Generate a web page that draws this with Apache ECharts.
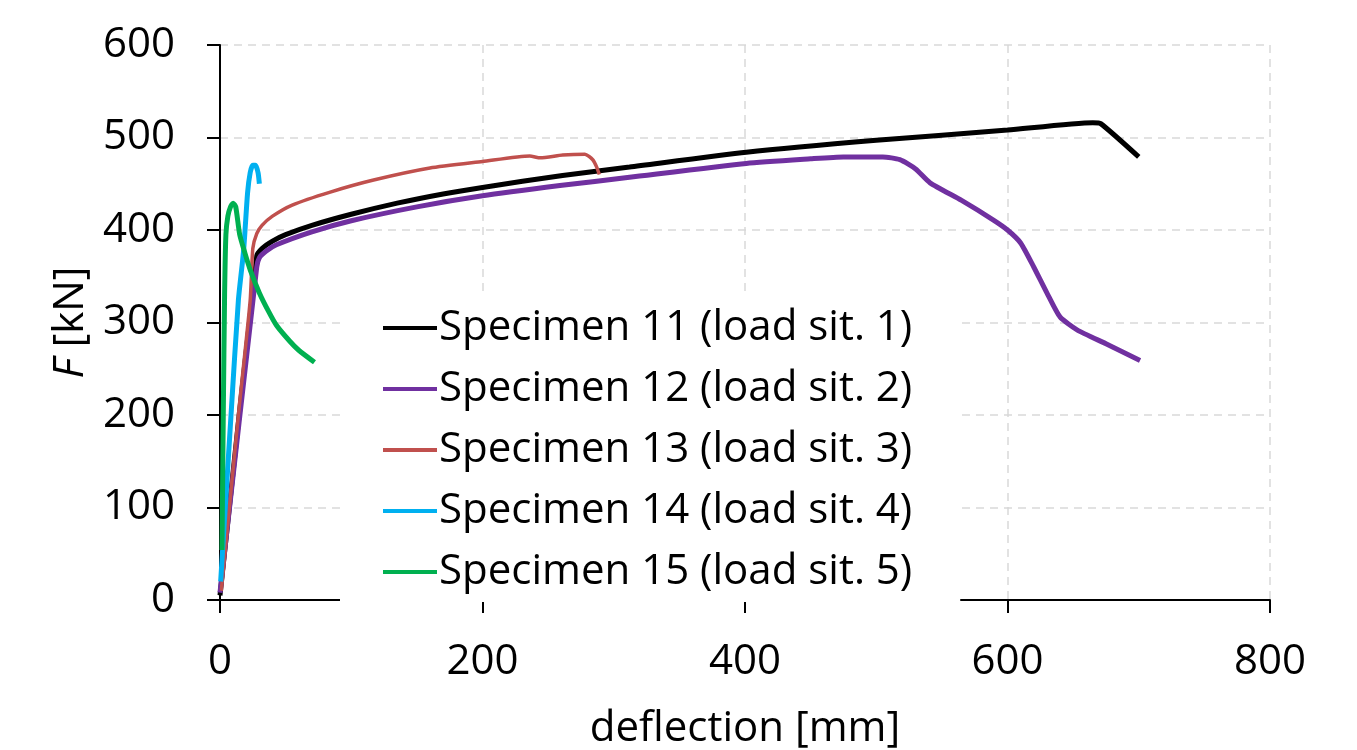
<!DOCTYPE html>
<html>
<head>
<meta charset="utf-8">
<script src="https://cdn.jsdelivr.net/npm/echarts@6/dist/echarts.min.js"></script>
<style>
    html, body { margin: 0; padding: 0; background: #fff; }
    #main { width: 1357px; height: 750px; }
</style>
</head>
<body>
<div id="main"></div>
<script>
    // load-deflection curves
    const names = [
        'Specimen 11 (load sit. 1)',
        'Specimen 12 (load sit. 2)',
        'Specimen 13 (load sit. 3)',
        'Specimen 14 (load sit. 4)',
        'Specimen 15 (load sit. 5)'
    ];
    const colors = ['#000000', '#7030A0', '#C0504D', '#00B0F0', '#00B050'];
    const widths = [5, 5, 3.5, 5, 5];

    const defl11 = [0, 28, 32, 40, 50, 70, 100, 135, 170, 200, 261, 312, 401, 500, 600, 665, 671, 700];
    const force11 = [5, 372, 380, 388, 395, 405, 417, 429, 439, 446, 459, 468, 484, 497, 508, 516, 515, 479];

    const defl12 = [0, 28, 30, 35, 43, 70, 100, 150, 200, 259, 312, 401, 450, 475, 505, 518, 530, 541, 565, 589, 600, 610, 620, 630, 640, 653, 675, 701];
    const force12 = [8, 360, 370, 377, 384, 398, 410, 425, 437, 448, 457, 472, 477, 479, 479, 476, 466, 451, 432, 411, 400, 386, 360, 332, 306, 292, 277, 259];

    const defl13 = [1, 14, 23, 25, 28, 32, 40, 55, 84, 117, 160, 200, 236, 244, 261, 278, 284, 287, 289];
    const force13 = [10, 200, 324, 380, 396, 405, 415, 427, 441, 454, 467, 474, 480, 478, 481, 482, 476, 468, 460];

    const defl14 = [0.5, 8.4, 14, 18, 21, 23, 25, 27, 29, 30];
    const force14 = [20, 200, 324, 378, 440, 462, 470, 470, 462, 450];

    const defl15 = [1.5, 2.5, 3.5, 4.5, 6, 8, 10, 12, 15, 19, 23, 30, 37, 43, 53, 60, 72];
    const force15 = [54, 200, 330, 395, 415, 425, 429, 425, 395, 375, 357, 332, 312, 297, 280, 270, 257];

    const xTicks = [0, 200, 400, 600, 800];
    const yTicks = [0, 100, 200, 300, 400, 500, 600];

    const deflArr = [defl11, defl12, defl13, defl14, defl15];
    const forceArr = [force11, force12, force13, force14, force15];

    const font = '"Open Sans", "Noto Sans", sans-serif';

    const series = names.map((name, i) => {
        return {
            name: name,
            type: 'line',
            showSymbol: false,
            symbol: 'none',
            smooth: 0.2,
            color: colors[i],
            lineStyle: { color: colors[i], width: widths[i] },
            data: deflArr[i].map((d, j) => [d, forceArr[i][j]])
        };
    });

    const chart = echarts.init(document.getElementById('main'));
    chart.setOption({
        animation: false,
        textStyle: { fontFamily: font },
        grid: { left: 220, right: 87, top: 45, bottom: 150, outerBoundsMode: 'none' },
        xAxis: {
            type: 'value',
            min: xTicks[0],
            max: xTicks[xTicks.length - 1],
            interval: 200,
            name: 'deflection [mm]',
            nameLocation: 'middle',
            nameGap: 108,
            nameTextStyle: { fontSize: 42, color: '#000', fontFamily: font },
            axisLine: { lineStyle: { color: '#000', width: 2 } },
            axisTick: { show: true, length: 13, lineStyle: { color: '#000', width: 2 } },
            axisLabel: { fontSize: 42, color: '#000', margin: 41, fontFamily: font },
            splitLine: { show: true, lineStyle: { color: '#d9d9d9', width: 1.5, type: [8, 6] } }
        },
        yAxis: {
            type: 'value',
            min: yTicks[0],
            max: yTicks[yTicks.length - 1],
            interval: 100,
            name: '{i|F} [kN]',
            nameLocation: 'middle',
            nameRotate: 90,
            nameGap: 128,
            nameTextStyle: {
                fontSize: 42, color: '#000', fontFamily: font,
                rich: { i: { fontSize: 42, fontStyle: 'italic', color: '#000', fontFamily: font } }
            },
            axisLine: { show: true, lineStyle: { color: '#000', width: 2 } },
            axisTick: { show: true, length: 13, lineStyle: { color: '#000', width: 2 } },
            axisLabel: { fontSize: 42, color: '#000', margin: 45, fontFamily: font },
            splitLine: { show: true, lineStyle: { color: '#d9d9d9', width: 1.5, type: [8, 6] } }
        },
        legend: {
            orient: 'vertical',
            left: 340,
            top: 294,
            padding: [4, 48, 0, 43],
            backgroundColor: '#fff',
            icon: 'rect',
            itemWidth: 54,
            itemHeight: 4,
            itemGap: 1,
            textStyle: { fontSize: 42, color: '#000', lineHeight: 60, padding: [0, 0, 0, -3], fontFamily: font },
            data: names
        },
        series: series
    });
</script>
</body>
</html>
